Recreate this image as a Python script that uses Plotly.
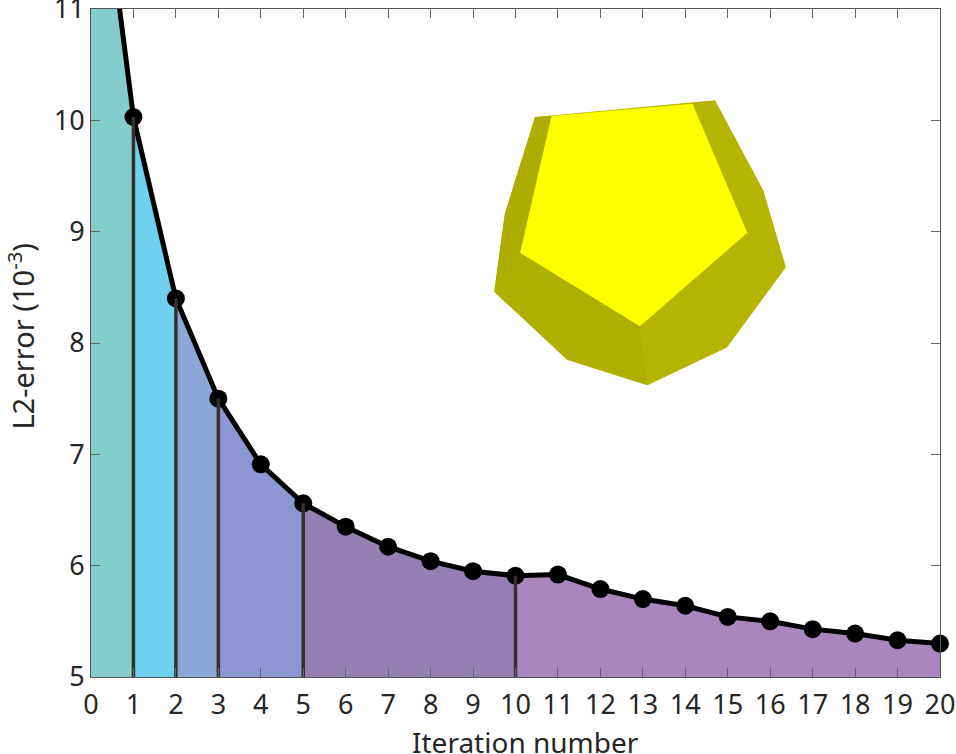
"""L2-error per iteration, with shaded refinement stages and a polyhedron inset."""
import plotly.graph_objects as go

# line starts off the top of the axes at iteration 0
iterations = list(range(21))
l2_error = [13.0, 10.03, 8.40, 7.50, 6.91, 6.56, 6.35, 6.17, 6.04, 5.95, 5.91,
            5.92, 5.79, 5.70, 5.64, 5.54, 5.50, 5.43, 5.39, 5.33, 5.30]

stage_edges = [0, 1, 2, 3, 5, 10, 20]
stage_colors = ["#85cdca", "#6fd0f0", "#8ca8d8", "#8b96d2", "#9580b5", "#a787bd"]
stage_marks = [1, 2, 3, 5, 10]

# polyhedron faces, in axis units
hull_x = [10.46, 14.70, 15.84, 16.37, 14.98, 13.11, 11.22, 9.50, 9.75]
hull_y = [10.03, 10.18, 9.37, 8.68, 7.96, 7.62, 7.85, 8.46, 9.16]
left_face_x = [10.46, 10.85, 10.11, 9.50, 9.75]
left_face_y = [10.03, 10.04, 8.81, 8.46, 9.16]
lower_face_x = [10.11, 12.93, 13.11, 11.22, 9.50]
lower_face_y = [8.81, 8.15, 7.62, 7.85, 8.46]
front_face_x = [10.85, 14.17, 15.46, 12.93, 10.11]
front_face_y = [10.04, 10.15, 8.99, 8.15, 8.81]

FONT = "Noto Sans"
TEXT = "#262626"

fig = go.Figure()

for start, end, color in zip(stage_edges[:-1], stage_edges[1:], stage_colors):
    fig.add_trace(go.Scatter(
        x=iterations[start:end + 1], y=l2_error[start:end + 1],
        mode="lines", line=dict(width=0),
        fill="tozeroy", fillcolor=color,
    ))

for xs, ys, color in [
    (hull_x, hull_y, "#b5b500"),
    (left_face_x, left_face_y, "#adad00"),
    (lower_face_x, lower_face_y, "#afaf00"),
    (front_face_x, front_face_y, "#ffff00"),
]:
    fig.add_trace(go.Scatter(
        x=xs, y=ys, mode="lines", line=dict(width=0),
        fill="toself", fillcolor=color,
    ))

fig.add_trace(go.Scatter(
    x=iterations, y=l2_error, mode="lines",
    line=dict(color="black", width=5),
))
# markers on their own so the last one can overhang the axes
fig.add_trace(go.Scatter(
    x=iterations[1:], y=l2_error[1:], mode="markers",
    marker=dict(color="black", size=18),
    cliponaxis=False,
))

for mark in stage_marks:
    fig.add_trace(go.Scatter(
        x=[mark, mark], y=[5, l2_error[mark]], mode="lines",
        line=dict(color="#353030", width=3.5),
    ))

fig.update_layout(
    width=956,
    height=754,
    paper_bgcolor="white",
    plot_bgcolor="white",
    showlegend=False,
    margin=dict(l=91, r=16, t=9, b=77),
    font=dict(family=FONT, size=27, color=TEXT),
)
fig.update_xaxes(
    range=[0, 20], tickmode="array", tickvals=iterations,
    ticks="inside", ticklen=9, tickcolor="#666666", tickwidth=1,
    showline=True, linecolor="#555555", linewidth=1, mirror="ticks",
    showgrid=False, zeroline=False, layer="above traces",
    automargin=False, ticklabeloverflow="allow", ticklabelstandoff=4,
)
fig.update_yaxes(
    range=[5, 11], dtick=1,
    ticks="inside", ticklen=9, tickcolor="#666666", tickwidth=1,
    showline=True, linecolor="#555555", linewidth=1, mirror="ticks",
    showgrid=False, zeroline=False, layer="above traces",
    automargin=False, ticklabeloverflow="allow",
)

# axis titles sit off-centre in the original, so placed by hand
fig.add_annotation(
    text="Iteration number", xref="paper", yref="paper",
    x=0.512, y=-0.097, xanchor="center", yanchor="middle",
    showarrow=False, font=dict(size=28),
)
fig.add_annotation(
    text="L2-error (10<sup>-3</sup>)", xref="paper", yref="paper",
    x=-0.0825, y=0.511, xanchor="center", yanchor="middle",
    textangle=-90, showarrow=False, font=dict(size=29),
)

fig.write_html(
    "out.html",
    config=dict(displayModeBar=False),
    post_script="document.body.style.margin='0';",
)
